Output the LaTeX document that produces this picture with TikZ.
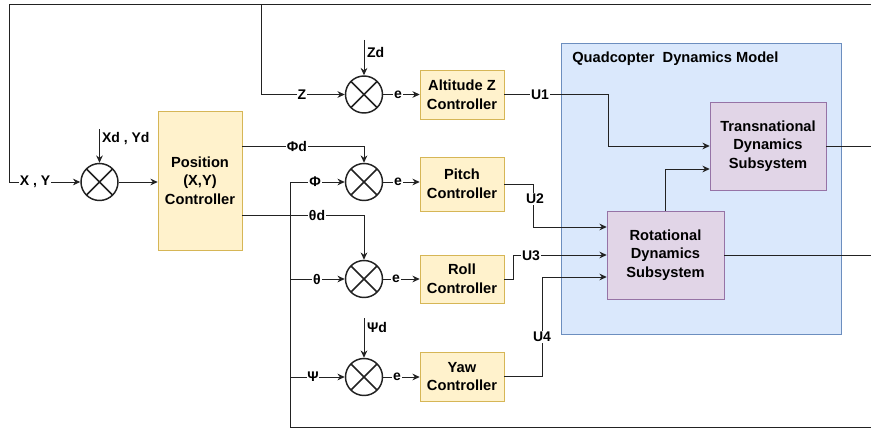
\documentclass[tikz,border=0pt]{standalone}
\usepackage{fontspec}
\setmainfont{Liberation Sans}
\usetikzlibrary{arrows.meta,calc}
\definecolor{yfill}{HTML}{FFF2CC}
\definecolor{ybord}{HTML}{D6B656}
\definecolor{bfill}{HTML}{DAE8FC}
\definecolor{bbord}{HTML}{6C8EBF}
\definecolor{pfill}{HTML}{E1D5E7}
\definecolor{pbord}{HTML}{9673A6}
\definecolor{lncol}{HTML}{222222}
\begin{document}
\begin{tikzpicture}[x=0.75pt,y=-0.75pt,
  font=\fontsize{11}{13.9}\selectfont\bfseries,
  ctrl/.style={draw=ybord, fill=yfill, align=center, minimum width=63pt, inner sep=0pt},
  subsys/.style={draw=pbord, fill=pfill, align=center, minimum width=87pt, minimum height=66pt, inner sep=0pt},
  sumj/.style={circle, draw=lncol, line width=1.1pt, minimum size=27.75pt, inner sep=0pt,
    path picture={\draw[line width=1.1pt, lncol] (path picture bounding box.north west) -- (path picture bounding box.south east)
      (path picture bounding box.north east) -- (path picture bounding box.south west);}},
  ln/.style={draw=lncol, line width=0.75pt},
  arr/.style={ln, -{Stealth[length=5.5pt,width=5pt]}},
  lbl/.style={fill=white, inner sep=0.6pt, font=\fontsize{10.5}{12}\selectfont\bfseries},
  side/.style={inner sep=0.6pt, anchor=west, font=\fontsize{10.5}{12}\selectfont\bfseries}]
\useasboundingbox (0,0) rectangle (871,428);

% Quadcopter model container
\node[draw=bbord, fill=bfill, minimum width=210pt, minimum height=218.25pt, inner sep=0pt, anchor=north west] (quad) at (561,43) {};
\node[anchor=west, inner sep=0pt] (qtitle) at (572,59) {Quadcopter\ \ Dynamics Model};

% Blocks
\node[ctrl, minimum height=104.25pt] (pos) at (200,180.5) {Position\\(X,Y)\\Controller};
\node[ctrl, minimum height=36.75pt] (alt) at (462,94.5) {Altitude Z\\Controller};
\node[ctrl, minimum height=40.5pt] (pitch) at (462,184) {Pitch\\Controller};
\node[ctrl, minimum height=36pt] (roll) at (462,279) {Roll\\Controller};
\node[ctrl, minimum height=36.75pt] (yaw) at (462,376.5) {Yaw\\Controller};
\node[subsys] (trans) at (768,146) {Transnational\\Dynamics\\Subsystem};
\node[subsys, minimum width=87.75pt] (rot) at (665.5,255) {Rotational\\Dynamics\\Subsystem};

% Summing junctions
\node[sumj] (s0) at (99.5,182) {};
\node[sumj] (sZ) at (364,94.5) {};
\node[sumj] (sPhi) at (364,182) {};
\node[sumj] (sTh) at (364,279) {};
\node[sumj] (sPsi) at (364,377) {};

% Free ends / bends
\coordinate (fbR) at (871,5);
\coordinate (fbL) at (9,5);
\coordinate (zTop) at (261,5);
\coordinate (botR) at (871,427);
\coordinate (botL) at (290,427);
\coordinate (busTh) at (290,279);
\coordinate (busPsi) at (290,377);
\coordinate (xdTop) at (99.5,129);
\coordinate (zdTop) at (364,40);
\coordinate (psidTop) at (364,318);
\coordinate (phidS) at (242,146);
\coordinate (thdS) at (242,215);
\coordinate (u1k) at (608,94.5);
\coordinate (u2k) at (533,184);
\coordinate (u3k) at (513,279);
\coordinate (u4k) at (542,376.5);
\coordinate (tOut) at (871,146);
\coordinate (rOut) at (871,255);

% Feedback / reference lines
\draw[arr] (fbR) -- (fbL) |- (s0.west);
\draw[arr] (zTop) |- (sZ.west);
\draw[arr] (botR) -- (botL) |- (sPhi.west);
\draw[arr] (busTh) -- (sTh.west);
\draw[arr] (busPsi) -- (sPsi.west);
\draw[arr] (xdTop) -- (s0.north);
\draw[arr] (zdTop) -- (sZ.north);
\draw[arr] (psidTop) -- (sPsi.north);
\draw[arr] (s0.east) -- (s0.east -| pos.west);
\draw[arr] (phidS) -| (sPhi.north);
\draw[arr] (thdS) -| (sTh.north);

% Errors into controllers
\draw[arr] (sZ.east) -- (alt.west);
\draw[arr] (sPhi.east) -- (sPhi.east -| pitch.west);
\draw[arr] (sTh.east) -- (roll.west);
\draw[arr] (sPsi.east) -- (sPsi.east -| yaw.west);

% Controller outputs
\draw[arr] (alt.east) -- (u1k) |- (trans.west);
\draw[arr] (pitch.east) -- (u2k) |- ($(rot.west)+(0,-28)$);
\draw[arr] (roll.east) -- (u3k) |- (rot.west);
\draw[arr] (yaw.east) -- (u4k) |- ($(rot.west)+(0,22)$);
\draw[arr] (rot.north) |- ($(trans.west)+(0,23)$);
\draw[ln] (trans.east) -- (tOut);
\draw[ln] (rot.east) -- (rOut);

% Labels
\node[lbl] (lXY) at (35,182) {X , Y};
\node[side] (lXd) at (101,139) {Xd , Yd};
\node[lbl] (lZ) at (302,94.5) {Z};
\node[side] (lZd) at (366,52) {Zd};
\node[lbl] (lPhid) at (297,146) {Φd};
\node[lbl] (lPhi) at (315,182) {Φ};
\node[lbl] (lThd) at (317,215) {θd};
\node[lbl] (lTh) at (317,279) {θ};
\node[lbl] (lPsi) at (313,377) {Ψ};
\node[side] (lPsid) at (366,327) {Ψd};
\node[lbl] (e1) at (398,94.5) {e};
\node[lbl] (e2) at (398,182) {e};
\node[lbl] (e3) at (396,279) {e};
\node[lbl] (e4) at (397,377) {e};
\node[lbl] (lU1) at (540,94.5) {U1};
\node[lbl] (lU2) at (535,199) {U2};
\node[lbl] (lU3) at (531,256) {U3};
\node[lbl] (lU4) at (542,337) {U4};
\end{tikzpicture}
\end{document}
